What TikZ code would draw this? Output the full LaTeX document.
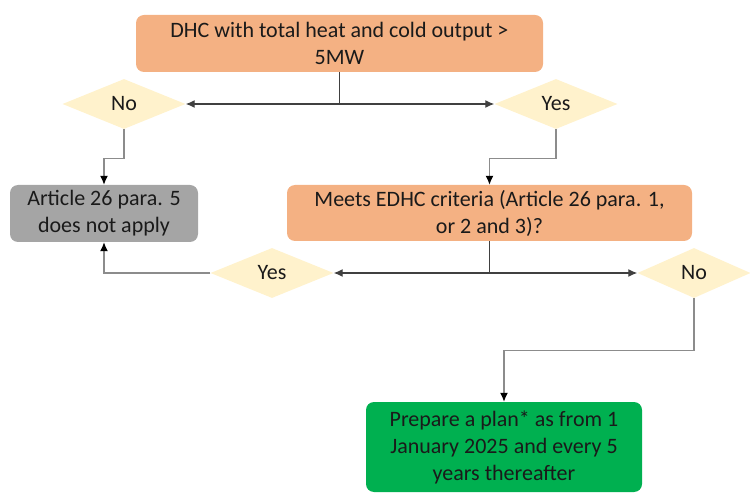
\documentclass[tikz,border=0pt]{standalone}
\usepackage{fontspec}
\setmainfont{Carlito}
\usetikzlibrary{shapes.geometric,arrows.meta}

\definecolor{boxorange}{HTML}{F4B183}
\definecolor{boxgrey}{HTML}{A5A5A5}
\definecolor{boxgreen}{HTML}{00B050}
\definecolor{decyellow}{HTML}{FFF2CC}
\definecolor{txtdark}{HTML}{1A1A1A}
\definecolor{linedark}{HTML}{404040}
\definecolor{linegrey}{HTML}{8C8C8C}

\tikzset{
  stepbox/.style={rectangle, rounded corners=8pt, draw=none, align=center,
    inner sep=0pt, text=txtdark, font=\fontsize{22}{27}\selectfont},
  answer/.style={diamond, fill=decyellow, draw=none, inner sep=0pt,
    minimum width=123pt, minimum height=50pt, text=txtdark,
    font=\fontsize{22}{26}\selectfont},
  link/.style={draw=linedark, line width=1.3pt, -{Latex[length=9pt,width=8pt]}},
  weak/.style={draw=linegrey, line width=1.3pt, -{Latex[length=9pt,width=8pt,color=black]}}
}

\begin{document}
\begin{tikzpicture}[x=1pt,y=-1pt]
  \useasboundingbox (0,0) rectangle (750,494);

  % question boxes
  \node[stepbox, fill=boxorange, minimum width=407pt, minimum height=57pt]
    (dhc) at (339.5,43.5) {DHC with total heat and cold output >\\5MW};
  \node[stepbox, fill=boxorange, minimum width=405pt, minimum height=56pt]
    (edhc) at (489.5,213) {Meets EDHC criteria (Article 26 para. 1,\\or 2 and 3)?};

  % outcomes
  \node[stepbox, fill=boxgrey, minimum width=188pt, minimum height=57pt]
    (art) at (104,213.5) {Article 26 para. 5\\does not apply};
  \node[stepbox, fill=boxgreen, minimum width=276pt, minimum height=90pt]
    (plan) at (504,447) {Prepare a plan* as from 1\\January 2025 and every 5\\years thereafter};

  % answers
  \node[answer] (no1) at (124,104) {No};
  \node[answer] (yes1) at (556,104) {Yes};
  \node[answer] (yes2) at (272,273) {Yes};
  \node[answer, minimum width=113pt] (no2) at (694,273) {No};

  \coordinate (split1) at (dhc.south |- no1);
  \coordinate (split2) at (edhc.south |- yes2);

  % first split
  \draw[draw=linedark, line width=1.3pt] (dhc.south) -- (split1);
  \draw[link] (split1) -- (no1.east);
  \draw[link] (split1) -- (yes1.west);
  \draw[weak] (no1.south) -- ++(0,29) -| (art.north);
  \draw[weak] (yes1.south) -- ++(0,29) -| (edhc.north);

  % second split
  \draw[draw=linedark, line width=1.3pt] (edhc.south) -- (split2);
  \draw[link] (split2) -- (yes2.east);
  \draw[link] (split2) -- (no2.west);
  \draw[weak] (yes2.west) -| (art.south);
  \draw[weak] (no2.south) -- ++(0,52) -| (plan.north);
\end{tikzpicture}
\end{document}
